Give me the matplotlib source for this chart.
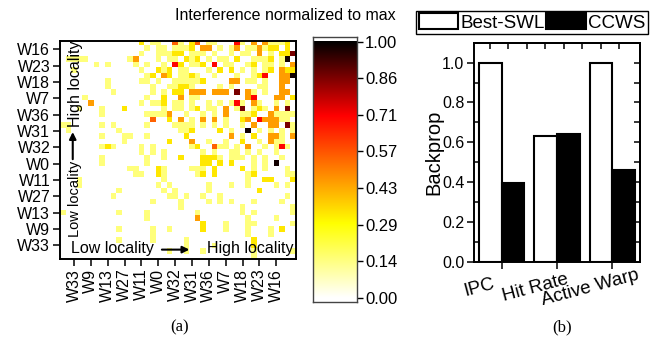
import numpy as np
import matplotlib
matplotlib.use('Agg')
import matplotlib.pyplot as plt
from matplotlib.colors import LinearSegmentedColormap
from matplotlib.transforms import ScaledTranslation

plt.rcParams['font.family'] = ['Liberation Sans', 'DejaVu Sans']

# ---------------- data ----------------
warp_labels_y = ['W16', 'W23', 'W18', 'W7', 'W36', 'W31', 'W32', 'W0', 'W11',
                 'W27', 'W13', 'W9', 'W33']
warp_labels_x = warp_labels_y[::-1]

# level codes
level_values = {'.': 0.0, 'a': 0.15, 'b': 0.33, 'd': 0.45, 'e': 0.55,
                'f': 0.70, 'g': 0.86, 'h': 0.98}

interference_rows = [
    "...... ...... ..b.aa ..ea.b e.aa.. .fa.d. daaab.",
    "...... ...... ...a.a a.aaab .dd.a. ad.aad abb.b.",
    "...... ...... ..a..a aabb.a aa.a.. a.aa.d .a.bbg",
    ".aaaa. ...... ad...a .aa.ba b.a.aa .b..aa ab.ah.",
    "...... a.a... .a.a.. a.fb.a ab.f.a a..ab. aa.a.d",
    "..a... ...... ..a..b ab.aa. ..a.b. b.a.a. ab.dbb",
    "...... ...... ...ab. db.aab a..a.. .a..ab f..ddh",
    "...... ..a... ..aa.a ..aaaa ab.... dd.aa. a..dd.",
    "...... ..a... ....a. .aabba ....a. a....a a..d..",
    "...... ...a.. ....a. a.bb.d dd.ddd .g.da. a..dd.",
    "....a. ...... ...a.. b..d.a a..... ...df. ..dd.b",
    ".....d ...... ..a.aa b.aa.a ..a.a. afa.da ..a.a.",
    "...a.. .a...b ...... a.aa.a b.aa.d .ag.ab a.d.g.",
    "...... .a.... ...aaa ad..a. .a.a.d ..aab. .daaaa",
    "...... ...... ....e. .b.d.a .d.d.a ..bd.f dddaa.",
    "aa.... .a.a.. ...a.. ..aaaa .a.a.a ..a.d. .dd.ga",
    ".a.... ....a. ...... ...aab ....b. a..h.a .a.a.a",
    "...... .a...a a..a.. ....b. ...... d.a.b. .dda.d",
    "...... .....a ...... .b...d ..a..a ..b..a .daa..",
    "...... .aba.. ..a.a. .....a b..eaa .a.d.. a.afa.",
    "...... ...... ..a.a. a..... .a.a.. aa.a.a ..a...",
    "...... .a.... ...a.. a..b.. .bbba. aaa.a. a..a..",
    "...... .a.... ...a.. ...... .bb.b. b...a. a.h...",
    "...... ...... aa...b a....a aa.b.. ..b.a. a...a.",
    "...... ...... .aa..b a..... ab.b.. ...ab. ....aa",
    "...a.. ...... ...... a..... ...... ...a.. bb...b",
    "...a.. ...... .....a .a.... ..a... a..a.. ..a.a.",
    "...... ....a. ...... a.a... ..a... .....b ......",
    "...... ...a.. ...... .aa.a. .a..a. ...... ....a.",
    "...... ...... ....a. ...a.. ..a.a. a...a. ...a..",
    "...... ...... ...... ...a.. ...... ..a... .....a",
    "a..... ....a. ...a.. ...... a..... ..a.a. .....a",
    "...... ...... ...a.. ...... d..... ...a.. ..a...",
    "...... ...... ...... ...... .b...a ...aa. .....a",
    "...... ....a. ....a. .a.... .b...a ...a.. .a.b..",
    "...... ...... ....a. ...... ...... ...a.. .a....",
    "...... ....a. ....a. ....a. ...... ....b. ......",
    "...... ...... ...... ....a. ...a.. ....b. ......",
    "...... ...... ...... .a..a. .a.... ....a. .....a",
    "...... ...... ...... ...... ...... ....a. ......",
]

colorbar_ticks = [0, 1 / 7, 2 / 7, 3 / 7, 4 / 7, 5 / 7, 6 / 7, 1]

metrics = ['IPC', 'Hit Rate', 'Active Warp']
best_swl = [1.0, 0.632, 1.0]
ccws = [0.393, 0.639, 0.463]

# ---------------- build ----------------
n_cols = 42
matrix = np.array([[level_values[ch] for ch in r.replace(' ', '').ljust(n_cols, '.')[:n_cols]]
                   for r in interference_rows])
n_rows = matrix.shape[0]

cmap = LinearSegmentedColormap.from_list(
    'interf', [(0.0, '#ffffff'), (0.29, '#ffff00'), (0.71, '#ff0000'), (1.0, '#000000')])

fig = plt.figure(figsize=(6.6, 3.45), dpi=100)
W, H = 660, 345


def fig_rect(x0, y0, x1, y1):
    return [x0 / W, 1 - y1 / H, (x1 - x0) / W, (y1 - y0) / H]


# heatmap
ax = fig.add_axes(fig_rect(60, 41, 296, 259))
ax.imshow(matrix, cmap=cmap, vmin=0, vmax=1, aspect='auto', interpolation='nearest')
ax.set_xticks(np.arange(2, 2 + 3 * len(warp_labels_x), 3))
ax.set_xticklabels(warp_labels_x, rotation=90, fontsize=11.5)
ax.set_yticks(np.arange(1, 1 + 3 * len(warp_labels_y), 3))
ax.set_yticklabels(warp_labels_y, fontsize=11.5)
ax.tick_params(length=5, width=1.1, pad=2, colors='black')
for s in ax.spines.values():
    s.set_linewidth(1.4)
fig.text(0.432, 0.955, 'Interference normalized to max', fontsize=11.5,
         ha='center', va='center')

# annotations inside heatmap
ax.text(0.045, 0.05, 'Low locality', transform=ax.transAxes, fontsize=11.5,
        ha='left', va='center')
ax.annotate('', xy=(0.56, 0.043), xytext=(0.42, 0.043), xycoords='axes fraction',
            arrowprops=dict(arrowstyle='-|>', color='black', lw=1.5, mutation_scale=10))
ax.text(0.99, 0.05, 'High locality', transform=ax.transAxes, fontsize=11.5,
        ha='right', va='center')
ax.text(0.064, 0.10, 'Low locality', transform=ax.transAxes, fontsize=10.5,
        ha='center', va='bottom', rotation=90)
ax.annotate('', xy=(0.054, 0.595), xytext=(0.054, 0.445), xycoords='axes fraction',
            arrowprops=dict(arrowstyle='-|>', color='black', lw=1.5, mutation_scale=10))
ax.text(0.064, 0.605, 'High locality', transform=ax.transAxes, fontsize=11.5,
        ha='center', va='bottom', rotation=90)

# colorbar
cax = fig.add_axes(fig_rect(313.3, 36.7, 356.7, 301.7))
grad = np.linspace(0, 1, 256).reshape(-1, 1)
cax.imshow(grad, cmap=cmap, vmin=0, vmax=1, aspect='auto', origin='lower',
           extent=[0, 1, 0, 1], interpolation='bilinear')
cax.set_xlim(0, 1)
cax.set_ylim(-0.0156, 1.0195)
cax.set_xticks([])
cax.yaxis.tick_right()
cax.set_yticks(colorbar_ticks)
cax.set_yticklabels(['%.2f' % t for t in colorbar_ticks], fontsize=12)
cax.tick_params(axis='y', length=4, width=1, pad=2)
for s in cax.spines.values():
    s.set_linewidth(1.0)
    s.set_color('#444444')

# bar chart
bx = fig.add_axes(fig_rect(474, 42.7, 640, 261.7))
x = np.arange(len(metrics))
w = 0.41
b1 = bx.bar(x - w / 2, best_swl, w, color='white', edgecolor='black', linewidth=1.5,
            label='Best-SWL')
b2 = bx.bar(x + w / 2, ccws, w, color='black', edgecolor='black', linewidth=1.5,
            label='CCWS')
bx.set_xlim(-0.5, 2.5)
bx.set_ylim(0, 1.1)
bx.set_yticks(np.arange(0, 1.01, 0.2))
bx.set_yticklabels(['%.1f' % v for v in np.arange(0, 1.01, 0.2)], fontsize=11.5)
bx.set_yticks(np.arange(0.1, 1.1, 0.2), minor=True)
bx.tick_params(axis='y', which='major', direction='out', length=5, width=1.1, pad=2)
bx.tick_params(axis='y', which='minor', direction='in', length=3, width=1.1)
bx.set_xticks(x)
bx.set_xticklabels(metrics, fontsize=13.5, rotation=15, ha='center', va='center',
                   rotation_mode='anchor')
bx.tick_params(axis='x', which='major', direction='out', length=5, width=1.1, pad=0)
off = ScaledTranslation(-0.22, -0.19, fig.dpi_scale_trans)
for lab in bx.get_xticklabels():
    lab.set_transform(lab.get_transform() + off)
bx.set_ylabel('Backprop', fontsize=14.5, labelpad=-1)
for s in bx.spines.values():
    s.set_linewidth(1.4)

ry = bx.secondary_yaxis('right')
ry.set_yticks(np.arange(0, 1.11, 0.1))
ry.tick_params(direction='in', length=4, width=1.1, labelright=False)
ry.spines['right'].set_linewidth(1.4)
tx = bx.secondary_xaxis('top')
tx.set_xticks([-0.21, 0.12, 0.46, 0.79, 1.12, 1.46, 1.79, 2.12])
tx.tick_params(direction='in', length=4, width=1.1, labeltop=False)
tx.spines['top'].set_linewidth(1.4)

leg = fig.legend(handles=[b1, b2], labels=['Best-SWL', 'CCWS'], loc='center',
                 bbox_to_anchor=(532 / W, 1 - 22.5 / H), ncol=2, fontsize=13.5,
                 handlelength=2.1, handleheight=0.9, handletextpad=0.1,
                 columnspacing=0.1, borderpad=0.15, borderaxespad=0,
                 fancybox=False, framealpha=1, edgecolor='black')
leg.get_frame().set_linewidth(1.0)

fig.text(180 / W, 1 - 327 / H, '(a)', fontsize=12, ha='center', va='center',
         family=['Liberation Serif', 'DejaVu Serif'])
fig.text(562 / W, 1 - 327 / H, '(b)', fontsize=12, ha='center', va='center',
         family=['Liberation Serif', 'DejaVu Serif'])

fig.savefig('out.png', dpi=100)
